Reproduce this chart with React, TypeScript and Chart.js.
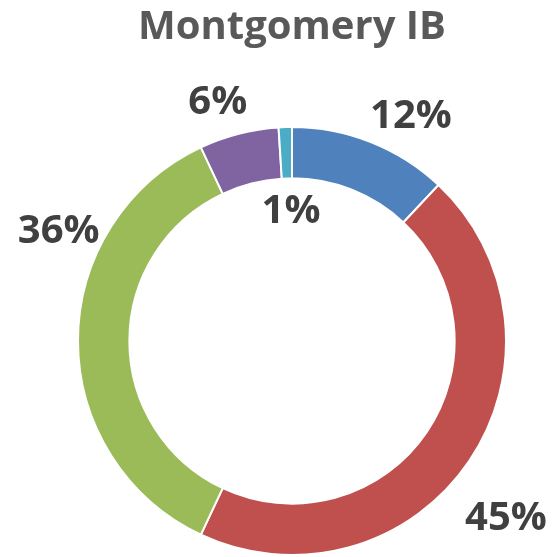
import React, { useEffect, useRef } from "react";
import { Chart, registerables } from "chart.js";

Chart.register(...registerables);

const TITLE = "Montgomery IB";
const categories = ["A", "B", "C", "D", "E"];
const values = [12, 45, 36, 6, 1];
const labels = ["12%", "45%", "36%", "6%", "1%"];
const colors = ["#4F81BD", "#C0504D", "#9BBB59", "#8064A2", "#4BACC6"];
// label placement: angle shift (deg) from slice middle, distance as a multiple of outer radius
const labelShift = [6, 5, 25.7, -2.7, 1.4];
const labelDist = [1.2, 1.29, 1.21, 1.18, 0.62];

const FONT = "'Open Sans', 'Liberation Sans', sans-serif";

const labelPlugin = {
  id: "sliceLabels",
  afterDatasetsDraw(chart: any) {
    const meta = chart.getDatasetMeta(0);
    const ctx = chart.ctx;
    ctx.save();
    const size = 40;
    ctx.font = `bold ${size}px ${FONT}`;
    ctx.fillStyle = "#404040";
    ctx.textAlign = "center";
    ctx.textBaseline = "alphabetic";
    meta.data.forEach((arc: any, i: number) => {
      const p = arc.getProps(["x", "y", "startAngle", "endAngle", "outerRadius"], true);
      const mid = (p.startAngle + p.endAngle) / 2 + (labelShift[i] * Math.PI) / 180;
      const r = p.outerRadius * labelDist[i];
      const x = p.x + Math.cos(mid) * r;
      const y = p.y + Math.sin(mid) * r;
      ctx.fillText(labels[i], x, y + size * 0.36);
    });
    ctx.restore();
  },
};

export default function App() {
  const ref = useRef<HTMLCanvasElement | null>(null);
  useEffect(() => {
    if (!ref.current) return;
    const chart = new Chart(ref.current, {
      type: "doughnut",
      data: {
        labels: categories,
        datasets: [
          {
            data: values,
            backgroundColor: colors,
            borderColor: "#ffffff",
            borderWidth: 2,
          },
        ],
      },
      options: {
        animation: false,
        responsive: false,
        cutout: "76%",
        layout: { padding: { left: 77, right: 47, top: 0, bottom: 1 } },
        plugins: {
          legend: { display: false },
          tooltip: { enabled: false },
          title: {
            display: true,
            text: TITLE,
            color: "#595959",
            font: { family: FONT, size: 40, weight: "bold", lineHeight: 1.2 },
            padding: { top: 4, bottom: 74 },
          },
        },
      },
      plugins: [labelPlugin],
    });
    return () => chart.destroy();
  }, []);
  return (
    <div style={{ position: "absolute", left: 0, top: 0, width: 554, height: 557, background: "#fff" }}>
      <canvas ref={ref} width={554} height={557} style={{ width: 554, height: 557 }} />
    </div>
  );
}
